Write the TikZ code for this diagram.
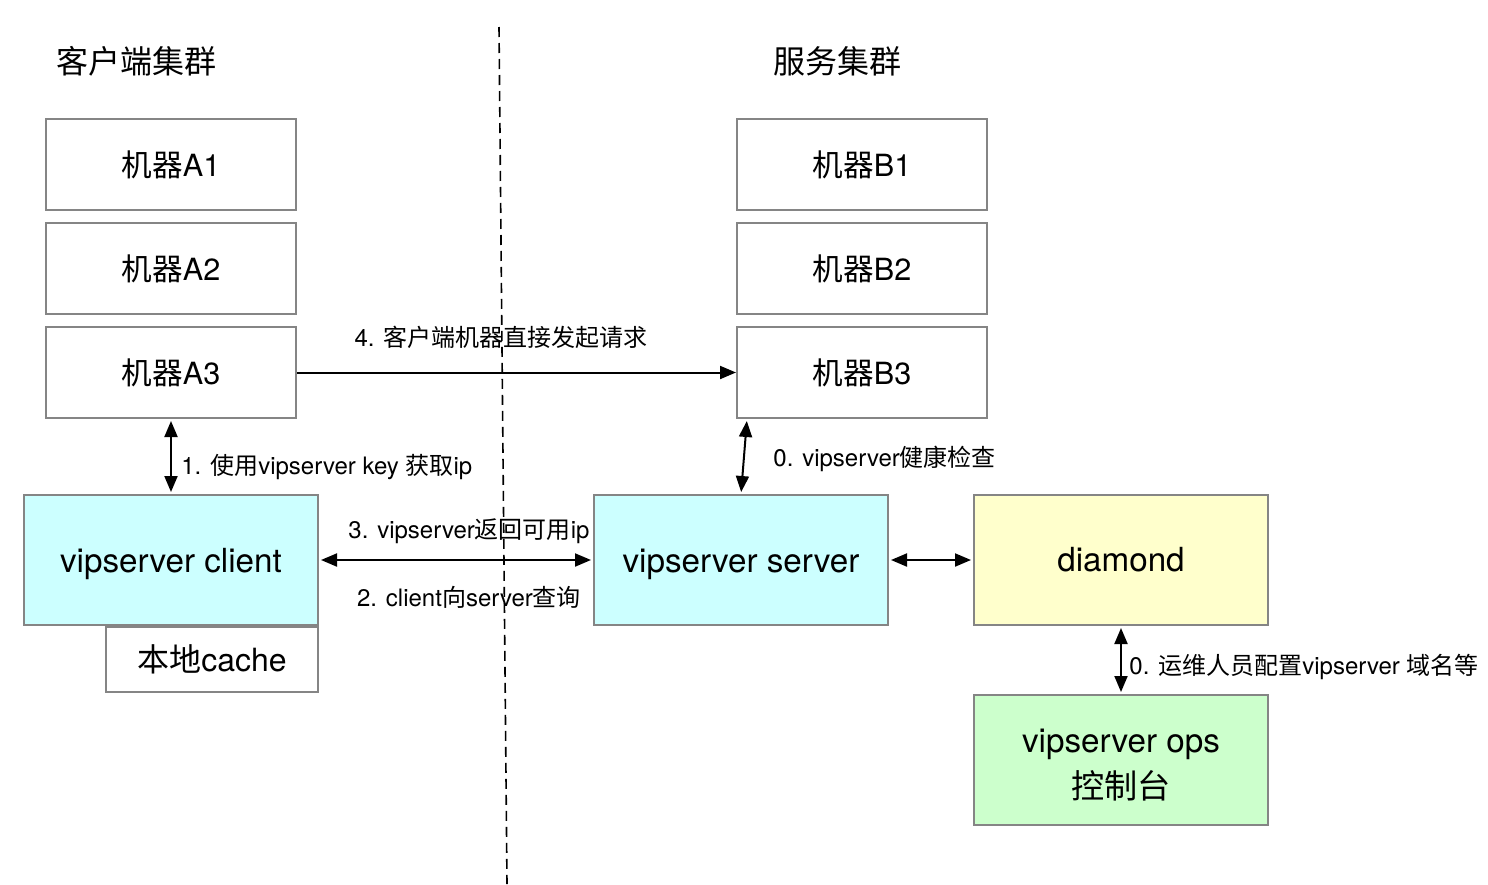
\documentclass[tikz,border=0pt]{standalone}
\usepackage{fontspec}
\setmainfont{TeX Gyre Heros}
\newfontfamily\cjk{Noto Sans CJK SC}
\newcommand{\zh}[1]{{\cjk #1}}
\usetikzlibrary{arrows.meta}

\definecolor{boxline}{HTML}{858585}
\definecolor{cyanfill}{HTML}{CCFFFF}
\definecolor{yellowfill}{HTML}{FFFFCC}
\definecolor{greenfill}{HTML}{CCFFCC}

\begin{document}
\begin{tikzpicture}[x=0.5pt, y=-0.5pt,
    box/.style={draw=boxline, line width=1pt, minimum width=125pt, minimum height=45.5pt,
      inner sep=0pt, font=\fontsize{15.3}{18}\selectfont},
    bigbox/.style={box, minimum width=147pt, minimum height=65pt, font=\fontsize{16.6}{22}\selectfont},
    lbl/.style={font=\fontsize{12}{14}\selectfont, inner sep=0pt},
    conn/.style={line width=1pt, {Triangle[length=8pt,width=6.5pt]}-{Triangle[length=8pt,width=6.5pt]}, shorten <=1pt, shorten >=1pt}]
  \useasboundingbox (0,0) rectangle (1488,884);

  % split between both sides
  \coordinate (cuttop) at (499,27);
  \coordinate (cutbot) at (507,884);
  \draw[line width=0.8pt, dash pattern=on 5pt off 3pt] (cuttop) -- (cutbot);

  \node[font=\fontsize{16}{18}\selectfont] (tclient) at (136,61) {\zh{客户端集群}};
  \node[font=\fontsize{16}{18}\selectfont] (tserver) at (837,61) {\zh{服务集群}};

  % client machines
  \node[box] (a1) at (171,164.5) {\zh{机器}A1};
  \node[box] (a2) at (171,268.5) {\zh{机器}A2};
  \node[box] (a3) at (171,372.5) {\zh{机器}A3};

  % server machines
  \node[box] (b1) at (862,164.5) {\zh{机器}B1};
  \node[box] (b2) at (862,268.5) {\zh{机器}B2};
  \node[box] (b3) at (862,372.5) {\zh{机器}B3};

  \node[bigbox, fill=cyanfill, text height=16pt, text depth=4pt] (client) at (171,560) {vipserver client};
  \node[box, minimum width=106pt, minimum height=32.5pt, font=\fontsize{16}{18}\selectfont, anchor=north east]
    (cache) at (client.south east) {\zh{本地}cache};
  \node[bigbox, fill=cyanfill, text height=16pt, text depth=4pt] (server) at (741,560) {vipserver server};
  \node[bigbox, fill=yellowfill] (diamond) at (1121,560) {diamond};
  \node[bigbox, fill=greenfill, align=center] (ops) at (1121,760) {\rule{0pt}{17pt}vipserver ops\\[1pt]\zh{控制台}};

  % connectors
  \draw[line width=1pt, -{Triangle[length=8pt,width=6.5pt]}] (a3.east) -- (b3.west);
  \node[lbl] (l4) at (501,337) {4. \zh{客户端机器直接发起请求}};

  \draw[conn] (a3.south) -- (client.north);
  \node[lbl, anchor=west] (l1) at (181,467) {1. \zh{使用}vipserver key \zh{获取}ip};

  \draw[conn] ([xshift=3pt]b3.south west -| server.north) -- (server.north);
  \node[lbl, anchor=west] (l0a) at (773,459) {0. vipserver\zh{健康检查}};

  \draw[conn] (client.east) -- (server.west);
  \node[lbl] (l3) at (469,531) {3. vipserver\zh{返回可用}ip};
  \node[lbl] (l2) at (469,597) {2. client\zh{向}server\zh{查询}};

  \draw[conn] (server.east) -- (diamond.west);

  \draw[conn] (diamond.south) -- (ops.north);
  \node[lbl, anchor=west] (l0b) at (1129,667) {0. \zh{运维人员配置}vipserver \zh{域名等}};
\end{tikzpicture}
\end{document}
